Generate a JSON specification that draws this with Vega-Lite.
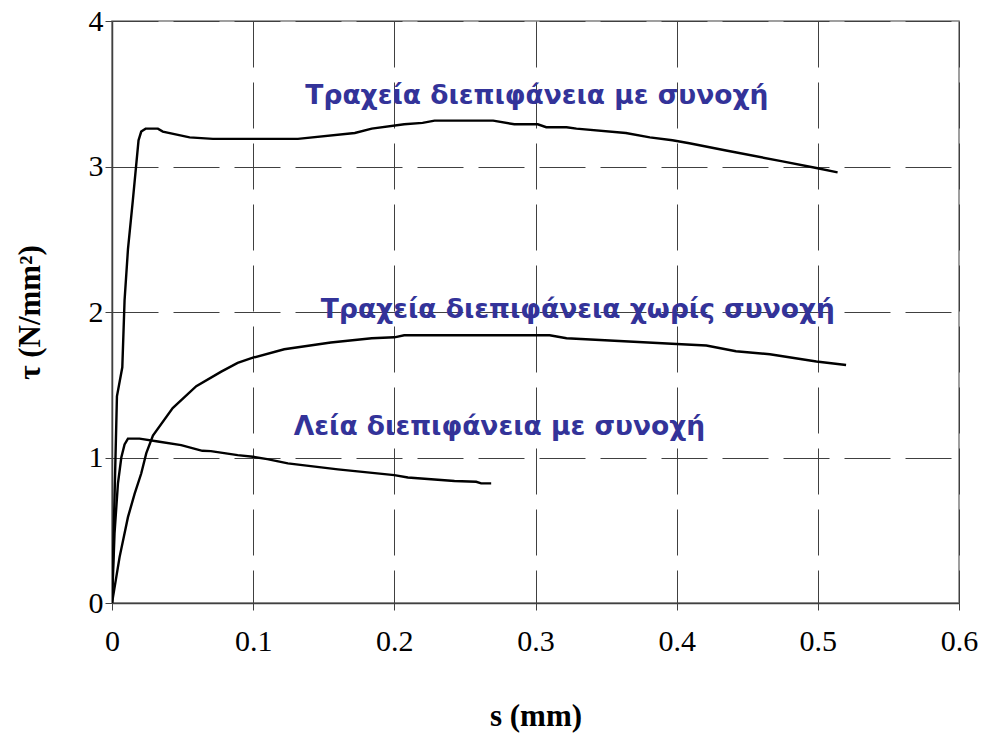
{
  "$schema": "https://vega.github.io/schema/vega-lite/v6.json",
  "autosize": {"type": "none"},
  "padding": {"left": 112, "top": 21, "right": 26, "bottom": 132},
  "width": 847,
  "height": 582,
  "background": "white",
  "config": {
    "view": {"stroke": "#808080", "strokeWidth": 1.5},
    "axis": {
      "grid": true,
      "gridColor": "#404040",
      "gridDash": [46, 15],
      "gridWidth": 1,
      "domainColor": "#404040",
      "domainWidth": 1.5,
      "tickColor": "#404040",
      "tickSize": 7,
      "labelFont": "Liberation Serif",
      "labelFontSize": 30,
      "labelColor": "black",
      "titleFont": "Liberation Serif",
      "titleFontSize": 31,
      "titleFontWeight": "bold",
      "titleColor": "black"
    }
  },
  "datasets": {
    "curves": [
      {"series": "A", "s": 0, "tau": 0},
      {"series": "A", "s": 0.0035, "tau": 1.42},
      {"series": "A", "s": 0.0073, "tau": 1.62},
      {"series": "A", "s": 0.0089, "tau": 2.08},
      {"series": "A", "s": 0.0113, "tau": 2.43},
      {"series": "A", "s": 0.0148, "tau": 2.77},
      {"series": "A", "s": 0.0188, "tau": 3.18},
      {"series": "A", "s": 0.0207, "tau": 3.24},
      {"series": "A", "s": 0.0238, "tau": 3.26},
      {"series": "A", "s": 0.0325, "tau": 3.26},
      {"series": "A", "s": 0.036, "tau": 3.24},
      {"series": "A", "s": 0.055, "tau": 3.2},
      {"series": "A", "s": 0.0715, "tau": 3.19},
      {"series": "A", "s": 0.1317, "tau": 3.19},
      {"series": "A", "s": 0.172, "tau": 3.23},
      {"series": "A", "s": 0.184, "tau": 3.26},
      {"series": "A", "s": 0.207, "tau": 3.29},
      {"series": "A", "s": 0.22, "tau": 3.3},
      {"series": "A", "s": 0.2285, "tau": 3.315},
      {"series": "A", "s": 0.27, "tau": 3.315},
      {"series": "A", "s": 0.285, "tau": 3.29},
      {"series": "A", "s": 0.3016, "tau": 3.29},
      {"series": "A", "s": 0.3076, "tau": 3.27},
      {"series": "A", "s": 0.322, "tau": 3.27},
      {"series": "A", "s": 0.329, "tau": 3.26},
      {"series": "A", "s": 0.364, "tau": 3.23},
      {"series": "A", "s": 0.381, "tau": 3.2},
      {"series": "A", "s": 0.397, "tau": 3.18},
      {"series": "A", "s": 0.409, "tau": 3.16},
      {"series": "A", "s": 0.435, "tau": 3.11},
      {"series": "A", "s": 0.475, "tau": 3.035},
      {"series": "A", "s": 0.499, "tau": 2.99},
      {"series": "A", "s": 0.514, "tau": 2.96},
      {"series": "B", "s": 0, "tau": 0},
      {"series": "B", "s": 0.0054, "tau": 0.317},
      {"series": "B", "s": 0.0113, "tau": 0.59},
      {"series": "B", "s": 0.016, "tau": 0.75},
      {"series": "B", "s": 0.0207, "tau": 0.89},
      {"series": "B", "s": 0.0243, "tau": 1.03},
      {"series": "B", "s": 0.029, "tau": 1.15},
      {"series": "B", "s": 0.043, "tau": 1.34},
      {"series": "B", "s": 0.0597, "tau": 1.49},
      {"series": "B", "s": 0.0774, "tau": 1.59},
      {"series": "B", "s": 0.089, "tau": 1.65},
      {"series": "B", "s": 0.0998, "tau": 1.686},
      {"series": "B", "s": 0.122, "tau": 1.744},
      {"series": "B", "s": 0.155, "tau": 1.79},
      {"series": "B", "s": 0.184, "tau": 1.82},
      {"series": "B", "s": 0.2, "tau": 1.826},
      {"series": "B", "s": 0.207, "tau": 1.84},
      {"series": "B", "s": 0.31, "tau": 1.84},
      {"series": "B", "s": 0.322, "tau": 1.82},
      {"series": "B", "s": 0.4, "tau": 1.78},
      {"series": "B", "s": 0.421, "tau": 1.77},
      {"series": "B", "s": 0.442, "tau": 1.73},
      {"series": "B", "s": 0.466, "tau": 1.71},
      {"series": "B", "s": 0.499, "tau": 1.66},
      {"series": "B", "s": 0.52, "tau": 1.636},
      {"series": "C", "s": 0, "tau": 0},
      {"series": "C", "s": 0.0018, "tau": 0.48},
      {"series": "C", "s": 0.0042, "tau": 0.82},
      {"series": "C", "s": 0.0066, "tau": 1.0},
      {"series": "C", "s": 0.0089, "tau": 1.09},
      {"series": "C", "s": 0.0113, "tau": 1.13},
      {"series": "C", "s": 0.0195, "tau": 1.13},
      {"series": "C", "s": 0.0325, "tau": 1.11},
      {"series": "C", "s": 0.049, "tau": 1.085},
      {"series": "C", "s": 0.064, "tau": 1.046},
      {"series": "C", "s": 0.07, "tau": 1.044},
      {"series": "C", "s": 0.089, "tau": 1.016},
      {"series": "C", "s": 0.0998, "tau": 1.005},
      {"series": "C", "s": 0.11, "tau": 0.989},
      {"series": "C", "s": 0.1246, "tau": 0.96},
      {"series": "C", "s": 0.16, "tau": 0.918},
      {"series": "C", "s": 0.2, "tau": 0.879},
      {"series": "C", "s": 0.2096, "tau": 0.863},
      {"series": "C", "s": 0.219, "tau": 0.856},
      {"series": "C", "s": 0.2426, "tau": 0.838},
      {"series": "C", "s": 0.258, "tau": 0.833},
      {"series": "C", "s": 0.2615, "tau": 0.822},
      {"series": "C", "s": 0.2686, "tau": 0.822}
    ],
    "labels": [
      {"s": 0.301, "tau": 3.43, "label": "Τραχεία διεπιφάνεια με συνοχή"},
      {"s": 0.330, "tau": 1.96, "label": "Τραχεία διεπιφάνεια χωρίς συνοχή"},
      {"s": 0.2745, "tau": 1.154, "label": "Λεία διεπιφάνεια με συνοχή"}
    ]
  },
  "layer": [
    {
      "data": {"name": "curves"},
      "mark": {"type": "line", "color": "black", "strokeWidth": 2.4, "clip": true},
      "encoding": {
        "x": {
          "field": "s", "type": "quantitative",
          "scale": {"domain": [0, 0.6], "nice": false, "zero": false},
          "axis": {"values": [0, 0.1, 0.2, 0.3, 0.4, 0.5, 0.6], "format": "~g", "title": "s (mm)", "labelPadding": 16, "titlePadding": 45, "labelFlush": false}
        },
        "y": {
          "field": "tau", "type": "quantitative",
          "scale": {"domain": [0, 4], "nice": false},
          "axis": {"values": [0, 1, 2, 3, 4], "format": "d", "title": "τ (N/mm²)", "labelPadding": 2, "titlePadding": 42, "labelFlush": false}
        },
        "detail": {"field": "series"}
      }
    },
    {
      "data": {"name": "labels"},
      "mark": {"type": "text", "font": "DejaVu Sans", "fontWeight": "bold", "fontSize": 26.5, "color": "#333399", "align": "center", "baseline": "alphabetic"},
      "encoding": {
        "x": {"field": "s", "type": "quantitative"},
        "y": {"field": "tau", "type": "quantitative"},
        "text": {"field": "label"}
      }
    }
  ]
}
